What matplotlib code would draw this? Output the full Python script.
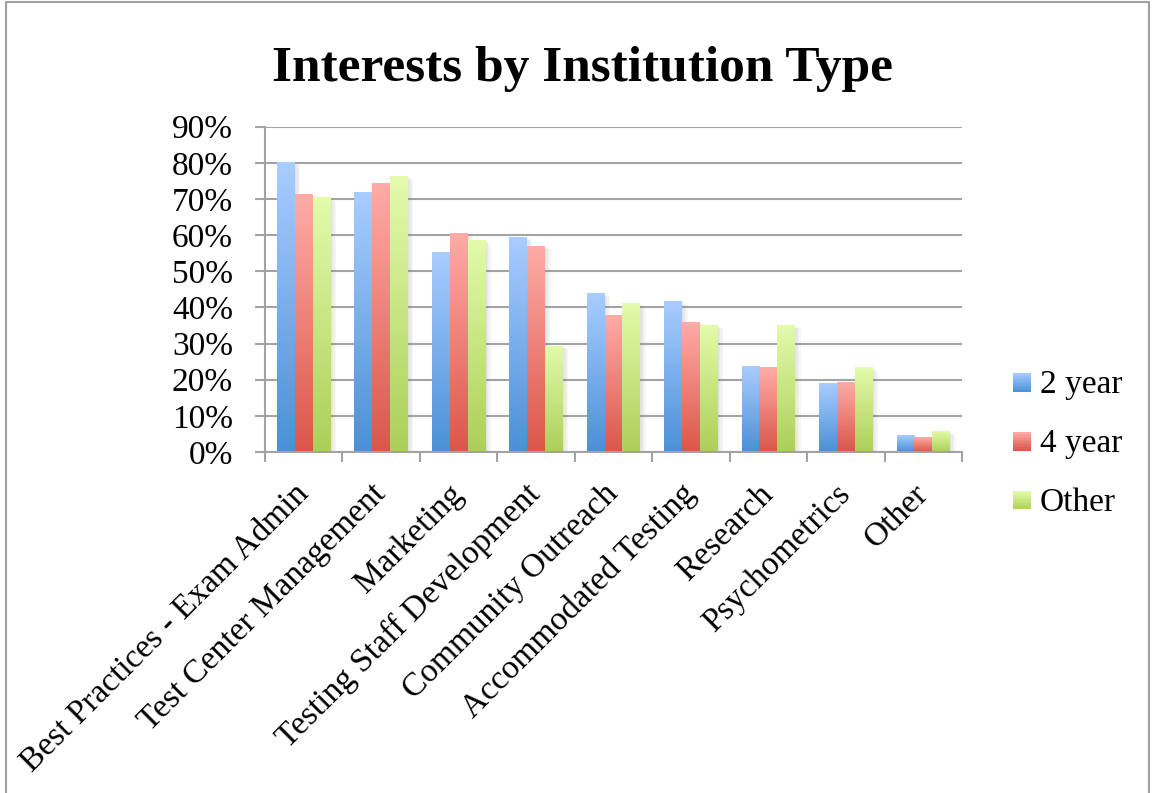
import numpy as np
import matplotlib
matplotlib.use("Agg")
import matplotlib.pyplot as plt
from matplotlib.colors import LinearSegmentedColormap
from matplotlib.patches import Rectangle
from matplotlib.legend_handler import HandlerBase
from matplotlib.lines import Line2D
import matplotlib.patheffects as pe

categories = [
    "Best Practices - Exam Admin",
    "Test Center Management",
    "Marketing",
    "Testing Staff Development",
    "Community Outreach",
    "Accommodated Testing",
    "Research",
    "Psychometrics",
    "Other",
]
series_names = ["2 year", "4 year", "Other"]
two_year = [0.802, 0.719, 0.553, 0.594, 0.439, 0.417, 0.237, 0.190, 0.046]
four_year = [0.714, 0.744, 0.606, 0.570, 0.378, 0.359, 0.234, 0.194, 0.041]
other = [0.705, 0.763, 0.586, 0.294, 0.412, 0.351, 0.351, 0.234, 0.057]
y_ticks = [0.0, 0.1, 0.2, 0.3, 0.4, 0.5, 0.6, 0.7, 0.8, 0.9]

# (top colour, bottom colour) for each series gradient
gradients = [
    ("#A9CDFF", "#4A90D7"),
    ("#FFACA7", "#DB5649"),
    ("#E3FBAB", "#ACCF59"),
]

FONT = "Liberation Serif"
plt.rcParams["font.family"] = [FONT, "DejaVu Serif"]

fig = plt.figure(figsize=(11.53, 7.93), dpi=100)
ax = fig.add_axes([265 / 1153, 1 - 452 / 793, (962 - 265) / 1153, (452 - 126.7) / 793])

x = np.arange(len(categories))
bar_w = 0.23
offsets = [-bar_w, 0.0, bar_w]
grad = np.linspace(0, 1, 256).reshape(-1, 1)

shadow = [pe.SimplePatchShadow(offset=(o, -o * 0.6), shadow_rgbFace="#808080", alpha=0.06)
          for o in (1.0, 2.0, 3.0, 4.0)] + [pe.Normal()]

for values, off, (top, bottom) in zip([two_year, four_year, other], offsets, gradients):
    cmap = LinearSegmentedColormap.from_list("g", [bottom, top])
    bars = ax.bar(x + off, values, width=bar_w, color=bottom, linewidth=0, zorder=2)
    for b in bars:
        b.set_path_effects(shadow)
        x0, y0 = b.get_x(), b.get_y()
        w, h = b.get_width(), b.get_height()
        im = ax.imshow(grad, extent=(x0, x0 + w, y0, y0 + h), origin="lower",
                       cmap=cmap, aspect="auto", interpolation="bilinear", zorder=2)
        im.set_clip_path(b)

ax.set_aspect("auto")
ax.set_xlim(-0.5, len(categories) - 0.5)
ax.set_ylim(0, 0.9)

grid_c = "#A3A3A3"
ax.set_yticks(y_ticks)
ax.set_yticklabels([f"{int(round(v * 100))}%" for v in y_ticks])
ax.yaxis.grid(True, color=grid_c, linewidth=1.5)
ax.set_axisbelow(True)

ax.set_xticks(x)
ax.set_xticklabels(categories, rotation=45, ha="right", va="center", rotation_mode="anchor")
ax.set_xticks(np.arange(-0.5, len(categories)), minor=True)
ax.tick_params(axis="x", which="major", length=0, pad=27, labelsize=24)
ax.tick_params(axis="x", which="minor", length=7, width=1.5, color=grid_c, direction="out")
ax.tick_params(axis="y", length=7, width=1.5, color=grid_c, pad=16, labelsize=24)
for lbl in ax.get_xticklabels():
    lbl.set_x(lbl.get_position()[0])

for side in ("top", "right"):
    ax.spines[side].set_visible(False)
for side in ("left", "bottom"):
    ax.spines[side].set_color(grid_c)
    ax.spines[side].set_linewidth(1.5)

fig.text(582 / 1153, 1 - 69 / 793, "Interests by Institution Type",
         ha="center", va="center", fontsize=37, fontweight="bold")


class GradientHandler(HandlerBase):
    def __init__(self, top, bottom, n=12):
        super().__init__()
        self.top, self.bottom, self.n = top, bottom, n

    def create_artists(self, legend, orig_handle, xdescent, ydescent, width, height, fontsize, trans):
        cmap = LinearSegmentedColormap.from_list("g", [self.bottom, self.top])
        side = min(width, height)
        artists = []
        for i in range(self.n):
            artists.append(Rectangle((-xdescent, -ydescent + side * i / self.n), side, side / self.n + 0.3,
                                     facecolor=cmap((i + 0.5) / self.n), edgecolor="none",
                                     transform=trans))
        return artists


handles = [Rectangle((0, 0), 1, 1) for _ in series_names]
handler_map = {h: GradientHandler(t, b) for h, (t, b) in zip(handles, gradients)}
fig.legend(handles, series_names, handler_map=handler_map, loc="center left",
           bbox_to_anchor=(1013 / 1153, 1 - 444 / 793), frameon=False, fontsize=24,
           handlelength=0.55, handleheight=0.55, handletextpad=0.25, labelspacing=0.85,
           borderpad=0, borderaxespad=0)

# thin frame around the chart area
border_c = "#A0A0A0"
fx = [6 / 1153, 6 / 1153, 1149 / 1153, 1149 / 1153]
fy = [0, 1 - 1.5 / 793, 1 - 1.5 / 793, 0]
fig.add_artist(Line2D(fx, fy, transform=fig.transFigure, color=border_c, linewidth=1.5))

fig.savefig("out.png", dpi=100)
